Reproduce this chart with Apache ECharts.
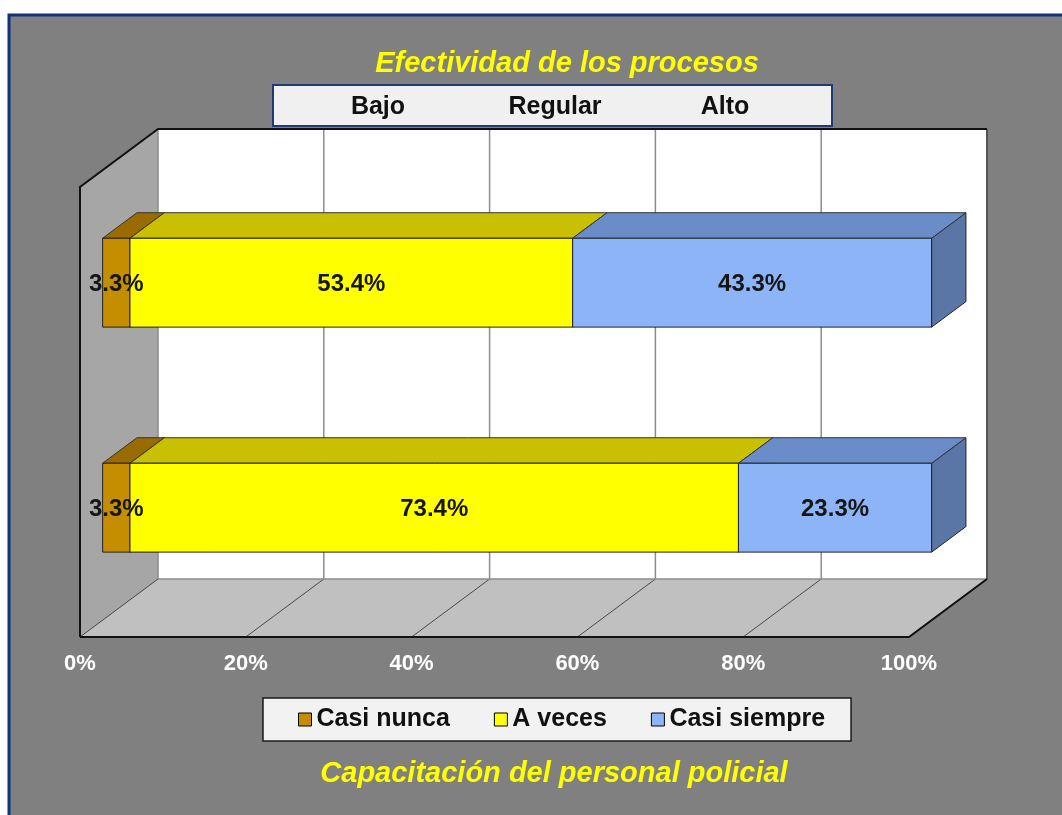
<!DOCTYPE html>
<html>
<head>
<meta charset="utf-8">
<title>Efectividad de los procesos</title>
<script src="https://cdn.jsdelivr.net/npm/echarts@6/dist/echarts.min.js"></script>
<style>
html, body { margin: 0; padding: 0; background: #fff; }
#main { width: 1062px; height: 815px; }
</style>
</head>
<body>
<div id="main"></div>
<script>
// datos del grafico
var filas = ['Fila 1', 'Fila 2'];
var nombres = ['Casi nunca', 'A veces', 'Casi siempre'];
var casiNunca = [3.3, 3.3];
var aVeces = [53.4, 73.4];
var casiSiempre = [43.3, 23.3];
var encabezado = ['Bajo', 'Regular', 'Alto'];
var marcas = [0, 20, 40, 60, 80, 100];

var valores = [casiNunca, aVeces, casiSiempre];
var colores = [
    {front: '#C48E00', top: '#9A6C00', side: '#7A5500'},
    {front: '#FFFF00', top: '#C8C000', side: '#A09A00'},
    {front: '#8DB4F7', top: '#6A8CC8', side: '#5A76A6'}
];

var fuente = 'Arial, "Liberation Sans", sans-serif';
// vector de profundidad de la caja 3D
var prof = [78, -58];
var t1 = 0.29, t2 = 0.73;

var myChart = echarts.init(document.getElementById('main'));

// paredes, piso y lineas de division
function caja(params, api) {
    var cs = params.coordSys;
    var x0 = cs.x, x1 = cs.x + cs.width, y0 = cs.y, y1 = cs.y + cs.height;
    var dx = prof[0], dy = prof[1];
    var h = [];
    h.push({type: 'polygon', shape: {points: [[x0, y0], [x0 + dx, y0 + dy], [x0 + dx, y1 + dy], [x0, y1]]},
        style: {fill: '#A6A6A6'}});
    h.push({type: 'rect', shape: {x: x0 + dx, y: y0 + dy, width: cs.width, height: cs.height},
        style: {fill: '#FFFFFF'}});
    h.push({type: 'polygon', shape: {points: [[x0, y1], [x1, y1], [x1 + dx, y1 + dy], [x0 + dx, y1 + dy]]},
        style: {fill: '#C0C0C0'}});
    marcas.forEach(function (v) {
        var x = api.coord([v, 0])[0];
        h.push({type: 'line', shape: {x1: x + dx, y1: y0 + dy, x2: x + dx, y2: y1 + dy},
            style: {stroke: '#8C8C8C', lineWidth: 1.5}});
        h.push({type: 'line', shape: {x1: x + dx, y1: y1 + dy, x2: x, y2: y1},
            style: {stroke: '#4A4A4A', lineWidth: 1}});
    });
    // bordes
    h.push({type: 'line', shape: {x1: x0 + dx, y1: y1 + dy, x2: x1 + dx, y2: y1 + dy}, style: {stroke: '#8C8C8C', lineWidth: 1.5}});
    h.push({type: 'line', shape: {x1: x1 + dx, y1: y0 + dy, x2: x1 + dx, y2: y1 + dy}, style: {stroke: '#555', lineWidth: 2}});
    h.push({type: 'polyline', shape: {points: [[x0, y1], [x0, y0], [x0 + dx, y0 + dy], [x1 + dx, y0 + dy]]},
        style: {stroke: '#111', lineWidth: 2, fill: null}});
    h.push({type: 'polyline', shape: {points: [[x0, y1], [x1, y1], [x1 + dx, y1 + dy]]},
        style: {stroke: '#111', lineWidth: 2, fill: null}});
    return {type: 'group', children: h};
}

// barras apiladas en 3D
function barra(k) {
    return function (params, api) {
        var cat = api.value(0);
        var pA = api.coord([api.value(1), cat]);
        var pB = api.coord([api.value(2), cat]);
        var alto = api.size([0, 1])[1] * 0.395;
        var fx = prof[0] * t1, fy = prof[1] * t1;
        var bx = prof[0] * (t2 - t1), by = prof[1] * (t2 - t1);
        var xa = pA[0] + fx, xb = pB[0] + fx;
        var yt = pA[1] + fy - alto / 2, yb = yt + alto;
        var c = colores[k];
        return {type: 'group', children: [
            {type: 'polygon', shape: {points: [[xb, yt], [xb + bx, yt + by], [xb + bx, yb + by], [xb, yb]]},
                style: {fill: c.side, stroke: '#222', lineWidth: 1}},
            {type: 'polygon', shape: {points: [[xa, yt], [xb, yt], [xb + bx, yt + by], [xa + bx, yt + by]]},
                style: {fill: c.top, stroke: '#333', lineWidth: 1}},
            {type: 'rect', shape: {x: xa, y: yt, width: xb - xa, height: alto},
                style: {fill: c.front, stroke: '#222', lineWidth: 1}},
            {type: 'text', z2: 100, style: {
                x: (xa + xb) / 2, y: (yt + yb) / 2 + 2,
                text: api.value(3).toFixed(1) + '%',
                align: 'center', verticalAlign: 'middle',
                fill: '#151515', font: 'bold 24px ' + fuente}}
        ]};
    };
}

var acum = filas.map(function () { return 0; });
var seriesBarras = nombres.map(function (n, k) {
    var datos = filas.map(function (f, i) {
        var ini = acum[i];
        acum[i] += valores[k][i];
        return [i, ini, acum[i], valores[k][i]];
    });
    return {
        name: n,
        type: 'custom',
        renderItem: barra(k),
        itemStyle: {color: colores[k].front},
        encode: {x: [1, 2], y: 0},
        data: datos,
        z: 3
    };
});

var graficos = [
    {type: 'rect', z: -10, shape: {x: 9, y: 15, width: 1060, height: 810},
        style: {fill: '#808080', stroke: '#13307A', lineWidth: 3}},
    {type: 'rect', z: 1, shape: {x: 273, y: 85, width: 559, height: 41},
        style: {fill: '#F0F0F0', stroke: '#1F3A78', lineWidth: 2}}
];
var posEnc = [378, 555, 725];
encabezado.forEach(function (t, i) {
    graficos.push({type: 'text', z: 2, x: posEnc[i], y: 107,
        style: {text: t, align: 'center', verticalAlign: 'middle', fill: '#111', font: 'bold 25px ' + fuente}});
});

var option = {
    animation: false,
    title: [
        {text: 'Efectividad de los procesos', left: 562, top: 44, textAlign: 'center',
            textStyle: {color: '#FFFF00', fontStyle: 'italic', fontWeight: 'bold', fontSize: 29, fontFamily: fuente}},
        {text: 'Capacitación del personal policial', left: 549, top: 754, textAlign: 'center',
            textStyle: {color: '#FFFF00', fontStyle: 'italic', fontWeight: 'bold', fontSize: 29, fontFamily: fuente}}
    ],
    legend: {
        data: nombres,
        left: 263, top: 698,
        icon: 'rect', itemWidth: 13, itemHeight: 13, itemGap: 44,
        itemStyle: {borderColor: '#000', borderWidth: 1},
        textStyle: {fontFamily: fuente, fontSize: 25, fontWeight: 'bold', color: '#111'},
        backgroundColor: '#F2F2F2', borderColor: '#1A1A1A', borderWidth: 1.5,
        padding: [9, 26, 9, 35], selectedMode: false
    },
    grid: {left: 80, right: 153, top: 187, bottom: 178},
    xAxis: {
        type: 'value', min: 0, max: 100, interval: 20,
        axisLine: {show: false}, axisTick: {show: false}, splitLine: {show: false},
        axisLabel: {formatter: '{value}%', color: '#FFFFFF', fontWeight: 'bold', fontSize: 22,
            fontFamily: fuente, margin: 16, showMinLabel: true, showMaxLabel: true}
    },
    yAxis: {type: 'category', data: filas, inverse: true, show: false},
    graphic: graficos,
    series: [{
        name: 'caja', type: 'custom', renderItem: caja, data: [[0, 0]], z: 1, silent: true
    }].concat(seriesBarras)
};

myChart.setOption(option);
</script>
</body>
</html>
